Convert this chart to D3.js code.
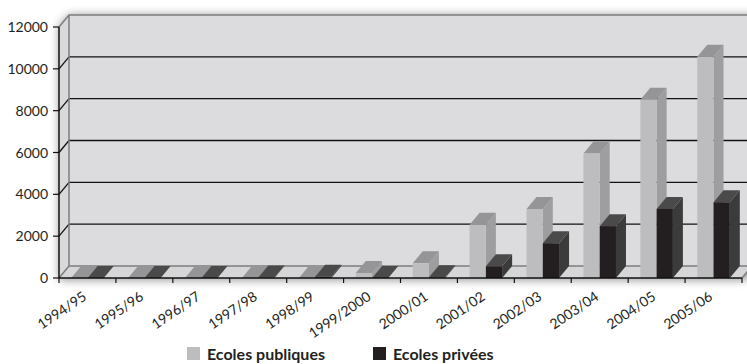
<!DOCTYPE html>
<html>
<head>
<meta charset="utf-8">
<script src="https://cdn.jsdelivr.net/npm/d3@7/dist/d3.min.js"></script>
<style>
  html, body { margin: 0; padding: 0; background: #fff; }
  svg { display: block; font-family: Lato, "Open Sans", sans-serif; }
</style>
</head>
<body>
<svg id="chart" width="747" height="364"></svg>
<script>
// School years on the category axis
const years = ["1994/95", "1995/96", "1996/97", "1997/98", "1998/99", "1999/2000",
               "2000/01", "2001/02", "2002/03", "2003/04", "2004/05", "2005/06"];
// Number of pupils, public and private schools
const publicSchools  = [0, 0, 0, 0, 0, 240, 700, 2550, 3300, 5950, 8520, 10580];
const privateSchools = [0, 0, 0, 20, 60, 0, 30, 560, 1660, 2480, 3300, 3620];
const yTicks = [0, 2000, 4000, 6000, 8000, 10000, 12000];
const seriesNames = ["Ecoles publiques", "Ecoles privées"];

const colors = {
  pub:  { front: "#bdbdbf", side: "#9e9ea0", top: "#959597" },
  priv: { front: "#231f20", side: "#3b3b3c", top: "#4a4a4b" }
};
const textColor = "#231f20";

const svg = d3.select("#chart");

// Plot geometry (front plane) and depth offset of the 3D box
const pLeft = 59, pRight = 742, pBottom = 278, pTop = 27;
const DX = 10, DY = -12;

const x = d3.scaleBand().domain(years).range([pLeft, pRight]).paddingInner(0).paddingOuter(0);
const xs = d3.scaleBand().domain(["pub", "priv"]).range([0, x.bandwidth()])
  .paddingInner(0).paddingOuter(0.75);
const y = d3.scaleLinear().domain([0, 12000]).range([pBottom, pTop]);

const defs = svg.append("defs");
const blur = defs.append("filter").attr("id", "soft").attr("x", "-10%").attr("y", "-30%")
  .attr("width", "120%").attr("height", "160%");
blur.append("feGaussianBlur").attr("stdDeviation", 5);

const pt = p => p.map(d => d.join(",")).join(" ");
const xBackR = pRight + DX, yBack0 = y(0) + DY, yBackTop = y(12000) + DY;

// Soft shadow behind the walls
svg.append("polygon")
  .attr("points", pt([[pLeft, pBottom + 2], [pLeft, pTop], [pLeft + DX, yBackTop], [xBackR + 20, yBackTop],
                      [xBackR + 20, yBack0], [pRight, pBottom + 2]]))
  .attr("fill", "#000").attr("opacity", 0.42).attr("filter", "url(#soft)");

// Back wall
svg.append("polygon")
  .attr("points", pt([[pLeft + DX, yBackTop], [xBackR + 20, yBackTop], [xBackR + 20, yBack0], [pLeft + DX, yBack0]]))
  .attr("fill", "#dcdcde");
// Left wall
svg.append("polygon")
  .attr("points", pt([[pLeft, pBottom], [pLeft, pTop], [pLeft + DX, yBackTop], [pLeft + DX, yBack0]]))
  .attr("fill", "#d9d9db");
// Floor
svg.append("polygon")
  .attr("points", pt([[pLeft, pBottom], [pLeft + DX, yBack0], [xBackR, yBack0], [pRight, pBottom]]))
  .attr("fill", "#d6d6d8");

// Gridlines on the back and left walls
const grid = svg.append("g");
yTicks.filter(v => v > 0 && v < 12000).forEach(v => {
  grid.append("line").attr("x1", pLeft + DX).attr("x2", xBackR + 20)
    .attr("y1", y(v) + DY).attr("y2", y(v) + DY)
    .attr("stroke", "#111").attr("stroke-width", 1.3);
  grid.append("line").attr("x1", pLeft).attr("x2", pLeft + DX)
    .attr("y1", y(v)).attr("y2", y(v) + DY)
    .attr("stroke", "#111").attr("stroke-width", 1.3);
});

// Wall edges
const edge = "#7d7d7f";
svg.append("path")
  .attr("d", `M${pLeft},${pTop}L${pLeft + DX},${yBackTop}L${xBackR + 20},${yBackTop}` +
             `M${pLeft + DX},${yBackTop}L${pLeft + DX},${yBack0}L${xBackR + 20},${yBack0}` +
             `M${pLeft},${pBottom}L${pLeft + DX},${yBack0}M${pRight},${pBottom}L${xBackR},${yBack0}`)
  .attr("fill", "none").attr("stroke", edge).attr("stroke-width", 1.5);

// 3D columns
const rows = years.map((yr, i) => ({ yr, pub: publicSchools[i], priv: privateSchools[i] }));
const bars = svg.append("g");
rows.forEach(r => {
  ["pub", "priv"].forEach(k => {
    const c = colors[k];
    const xa = x(r.yr) + xs(k), xb = xa + xs.bandwidth();
    const yv = y(r[k]), y0 = y(0);
    const g = bars.append("g");
    g.append("polygon") // side face
      .attr("points", pt([[xb, yv], [xb + DX, yv + DY], [xb + DX, y0 + DY], [xb, y0]]))
      .attr("fill", c.side);
    g.append("polygon") // top face
      .attr("points", pt([[xa, yv], [xa + DX, yv + DY], [xb + DX, yv + DY], [xb, yv]]))
      .attr("fill", c.top);
    g.append("rect") // front face
      .attr("x", xa).attr("y", yv).attr("width", xb - xa).attr("height", y0 - yv)
      .attr("fill", c.front);
  });
});

// Y axis
const yAxis = svg.append("g");
yAxis.append("line").attr("x1", pLeft).attr("x2", pLeft).attr("y1", pTop).attr("y2", pBottom)
  .attr("stroke", "#111").attr("stroke-width", 1.5);
yTicks.forEach(v => {
  yAxis.append("line").attr("x1", pLeft - 6).attr("x2", pLeft).attr("y1", y(v)).attr("y2", y(v))
    .attr("stroke", "#111").attr("stroke-width", 1.2);
  yAxis.append("text").attr("x", 48).attr("y", y(v) + 5).attr("text-anchor", "end")
    .attr("font-size", 14).attr("fill", textColor).text(v);
});

// X axis
const xAxis = svg.append("g");
xAxis.append("line").attr("x1", pLeft).attr("x2", pRight).attr("y1", pBottom).attr("y2", pBottom)
  .attr("stroke", "#111").attr("stroke-width", 1.5);
years.concat([null]).forEach(yr => {
  const xt = yr ? x(yr) : pRight;
  xAxis.append("line").attr("x1", xt).attr("x2", xt).attr("y1", pBottom).attr("y2", pBottom + 5)
    .attr("stroke", "#111").attr("stroke-width", 1.2);
});
years.forEach(yr => {
  const cx = x(yr) + x.bandwidth() / 2;
  xAxis.append("text")
    .attr("transform", `translate(${cx},${pBottom + 21}) rotate(-34)`)
    .attr("text-anchor", "end").attr("font-size", 14).attr("fill", textColor).text(yr);
});

// Legend
const legend = svg.append("g");
const legendItems = [
  { name: seriesNames[0], color: colors.pub.front, x: 187 },
  { name: seriesNames[1], color: colors.priv.front, x: 373 }
];
legendItems.forEach(d => {
  legend.append("rect").attr("x", d.x).attr("y", 347).attr("width", 13).attr("height", 13)
    .attr("fill", d.color);
  legend.append("text").attr("x", d.x + 20).attr("y", 360).attr("font-size", 16)
    .attr("font-weight", "bold").attr("fill", textColor).text(d.name);
});
</script>
</body>
</html>
